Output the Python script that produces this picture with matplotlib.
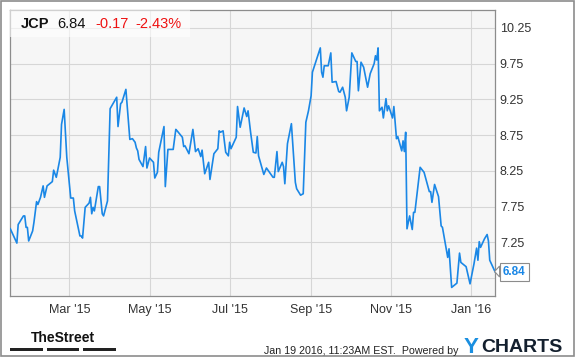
import numpy as np
import pandas as pd
import matplotlib
matplotlib.use('Agg')
from matplotlib import pyplot as plt
from matplotlib.patches import Rectangle, Polygon

plt.rcParams['font.family'] = ['Liberation Sans', 'DejaVu Sans']

# ---------------------------------------------------------------- data
ticker = 'JCP'
last_price = '6.84'
change = '-0.17'
change_pct = '-2.43%'
stamp = 'Jan 19 2016, 11:23AM EST.  Powered by'

start_date = '2015-01-15'
# days after start_date
day = [0, 5, 6, 10, 11, 12, 13, 14, 17, 18, 20, 21, 23, 25, 26, 28, 32, 33, 35, 36,
       38, 39, 41, 43, 46, 48, 49, 53, 54, 55, 57, 60, 61, 62, 63, 64, 67, 68, 70, 71,
       74, 76, 81, 82, 84, 85, 88, 91, 93, 95, 96, 97, 98, 101, 103, 104, 106, 109, 110, 112,
       113, 117, 118, 120, 124, 126, 127, 131, 132, 133, 136, 139, 141, 143, 145, 146, 148, 151, 152, 155,
       158, 159, 160, 162, 164, 166, 167, 168, 172, 173, 175, 178, 180, 181, 183, 185, 187, 188, 189, 193,
       195, 200, 201, 203, 204, 207, 208, 209, 211, 214, 217, 218, 221, 223, 225, 227, 229, 230, 236, 237,
       238, 239, 242, 244, 245, 248, 250, 251, 253, 255, 256, 258, 260, 263, 264, 265, 267, 269, 272, 274,
       277, 278, 279, 280, 281, 283, 284, 286, 287, 288, 291, 292, 294, 295, 298, 299, 300, 301, 302, 304,
       306, 307, 308, 312, 315, 319, 320, 321, 323, 326, 328, 329, 333, 334, 336, 340, 342, 343, 347, 350,
       353, 355, 356, 357, 358, 361, 363, 364, 365, 369]
price = [7.44, 7.24, 7.50, 7.62, 7.62, 7.46, 7.46, 7.27, 7.41, 7.53, 7.82, 7.78, 7.88, 8.04, 7.88, 8.04, 8.10, 8.26, 8.16, 8.25,
         8.44, 8.90, 9.11, 8.44, 7.87, 7.87, 7.69, 7.34, 7.34, 7.31, 7.74, 7.80, 7.88, 7.65, 7.74, 7.69, 8.03, 8.03, 7.65, 7.62,
         7.83, 9.12, 9.28, 8.87, 9.19, 9.21, 9.39, 8.69, 8.70, 8.65, 8.57, 8.53, 8.41, 8.31, 8.59, 8.29, 8.43, 8.37, 8.15, 8.23,
         8.51, 8.87, 8.03, 8.55, 8.55, 8.83, 8.81, 8.72, 8.59, 8.60, 8.49, 8.83, 8.52, 8.56, 8.45, 8.54, 8.21, 8.37, 8.13, 8.49,
         8.56, 8.81, 8.79, 8.81, 8.51, 8.46, 8.65, 8.56, 8.72, 9.15, 8.86, 9.13, 9.01, 9.09, 8.78, 8.51, 8.50, 8.73, 8.46, 8.20,
         8.29, 8.16, 8.16, 8.52, 8.24, 8.37, 8.31, 8.07, 8.63, 8.91, 8.09, 8.00, 7.91, 7.93, 8.93, 9.09, 9.30, 9.63, 9.97, 9.63,
         9.56, 9.72, 9.72, 9.90, 9.49, 9.50, 9.36, 9.35, 9.42, 9.28, 9.09, 9.28, 9.90, 9.78, 9.78, 9.37, 9.77, 9.70, 9.42, 9.61,
         9.75, 9.86, 9.80, 9.97, 9.09, 9.14, 8.99, 9.26, 9.09, 9.16, 8.99, 9.15, 8.70, 8.73, 8.53, 8.67, 8.52, 8.79, 7.44, 7.62,
         7.43, 7.67, 7.67, 8.30, 8.23, 7.96, 7.96, 7.81, 8.06, 7.89, 7.48, 7.46, 7.04, 7.16, 6.62, 6.68, 7.10, 6.97, 6.91, 6.67,
         6.95, 7.17, 7.00, 7.26, 7.18, 7.30, 7.36, 7.27, 7.00, 6.84]

y_ticks = [6.75, 7.25, 7.75, 8.25, 8.75, 9.25, 9.75, 10.25]
x_ticks = ['2015-03-01', '2015-05-01', '2015-07-01', '2015-09-01', '2015-11-01', '2016-01-01']
x_labels = ["Mar '15", "May '15", "Jul '15", "Sep '15", "Nov '15", "Jan '16"]

dates = pd.Timestamp(start_date) + pd.to_timedelta(day, unit='D')

# ---------------------------------------------------------------- figure
W, H = 575, 358
def fx(px): return px / W
def fy(py): return 1 - py / H

fig = plt.figure(figsize=(W / 100, H / 100), dpi=100, facecolor='white')
ax = fig.add_axes([fx(10.3), fy(296), fx(495) - fx(10.3), fy(10) - fy(296)])
ax.set_facecolor('#f6f6f6')

ax.plot(dates, price, '-', color='#1a87e6', lw=1.2, zorder=4)

ax.set_xlim(pd.Timestamp('2015-01-15'), pd.Timestamp('2016-01-19'))
ax.set_ylim(6.5, 10.5)

# lowest label sits under the last-value flag
ax.set_yticks(y_ticks)
ax.set_yticklabels([''] + ['%.2f' % v for v in y_ticks[1:]])
ax.set_xticks([pd.Timestamp(d) for d in x_ticks])
ax.set_xticklabels(x_labels)
ax.yaxis.tick_right()
ax.tick_params(axis='y', length=0, pad=3.5, labelsize=9, labelcolor='#333333')
ax.tick_params(axis='x', length=0, pad=5.5, labelsize=9, labelcolor='#333333')
ax.grid(True, color='#d6d6d6', lw=0.8, zorder=1)
ax.set_axisbelow(True)
for s in ax.spines.values():
    s.set_color('#8c8c8c'); s.set_linewidth(0.9)

# header box with ticker info
ax.add_patch(Rectangle((0, 1), (190 - 10.3) / 484.7, -27 / 286, transform=ax.transAxes,
                       facecolor='white', alpha=0.6, edgecolor='none', zorder=3))
fig.text(fx(21), fy(27.7), ticker, fontsize=10.5, fontweight='bold', color='#111111', va='baseline')
fig.text(fx(57.3), fy(27.7), last_price, fontsize=10.5, color='#111111', va='baseline')
fig.text(fx(95), fy(27.7), change, fontsize=10.5, color='#ee1111', va='baseline')
fig.text(fx(135), fy(27.7), change_pct, fontsize=10.5, color='#ee1111', va='baseline')

# last value flag
fig.text(fx(514.3), fy(272), last_price, fontsize=8.5, fontweight='bold', color='#1a87e6',
         ha='center', va='center', zorder=5,
         bbox=dict(boxstyle='square,pad=0.25', facecolor='white', edgecolor='#8c8c8c', lw=0.8))
fig.add_artist(Polygon([(fx(499.6), fy(266)), (fx(494.6), fy(271.5)), (fx(499.6), fy(277))],
                       closed=True, transform=fig.transFigure, facecolor='white',
                       edgecolor='#8c8c8c', lw=0.8, zorder=6))

# footer
fig.text(fx(63.4), fy(341.7), 'TheStreet', fontsize=10, fontweight='bold', color='#111111',
         ha='center', va='baseline')
for x0, x1 in [(10.3, 42.7), (46.7, 79.3), (83.3, 116)]:
    fig.add_artist(Rectangle((fx(x0), fy(350.8)), fx(x1) - fx(x0), fy(348.2) - fy(350.8),
                             transform=fig.transFigure, facecolor='#222222', edgecolor='none'))
fig.text(fx(264), fy(350.8), stamp, fontsize=7.7, color='#222222', va='center')
fig.text(fx(464), fy(347.8), 'Y', fontsize=16, fontweight='bold', color='#1a8fe0', va='center')
fig.text(fx(563), fy(347.8), 'CHARTS', fontsize=14, fontweight='bold', color='#14202e',
         ha='right', va='center')

# outer frame
fig.add_artist(Rectangle((fx(0.8), fy(355.8)), fx(574.2) - fx(0.8), fy(1.3) - fy(355.8),
                         transform=fig.transFigure, facecolor='none', edgecolor='#8c8c8c', lw=1.2))

plt.savefig('out.png', dpi=100)
